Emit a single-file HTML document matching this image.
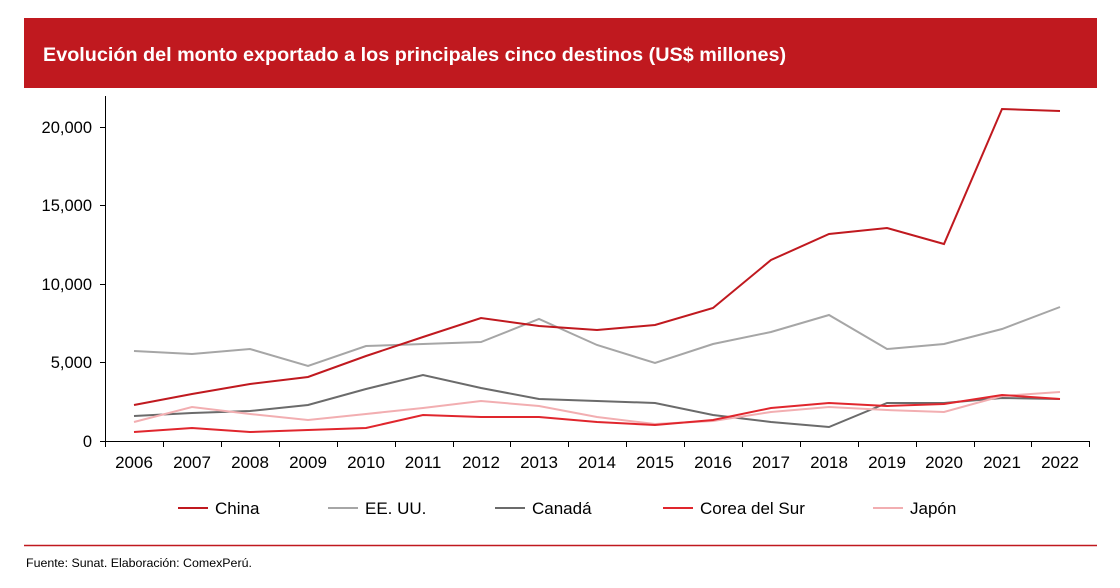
<!DOCTYPE html>
<html><head><meta charset="utf-8"><style>
body{margin:0;background:#fff;width:1120px;height:583px;overflow:hidden;font-family:"Liberation Sans",Arial,sans-serif;}
</style></head><body>
<svg width="1120" height="583" xmlns="http://www.w3.org/2000/svg" font-family="Liberation Sans, Arial, sans-serif">
<rect x="24" y="18" width="1073" height="70" fill="#c0191f"/>
<text x="43" y="61" fill="#fff" font-size="19.8" font-weight="bold">Evolución del monto exportado a los principales cinco destinos (US$ millones)</text>
<g stroke="#000" stroke-width="1">
<line x1="105.5" y1="96" x2="105.5" y2="441"/>
<line x1="105" y1="441.5" x2="1090" y2="441.5"/>
<line x1="100" y1="441.5" x2="105" y2="441.5"/>
<line x1="100" y1="362.5" x2="105" y2="362.5"/>
<line x1="100" y1="284.5" x2="105" y2="284.5"/>
<line x1="100" y1="205.5" x2="105" y2="205.5"/>
<line x1="100" y1="127.5" x2="105" y2="127.5"/>
</g>
<g font-size="16.5" fill="#000" text-anchor="end">
<text x="92" y="447">0</text><text x="92" y="368">5,000</text><text x="92" y="290">10,000</text><text x="92" y="211">15,000</text><text x="92" y="133">20,000</text>
</g>
<g stroke="#000" stroke-width="1">
<line x1="105.5" y1="441" x2="105.5" y2="447"/>
<line x1="163.5" y1="441" x2="163.5" y2="447"/><line x1="221.5" y1="441" x2="221.5" y2="447"/><line x1="279.5" y1="441" x2="279.5" y2="447"/><line x1="337.5" y1="441" x2="337.5" y2="447"/><line x1="395.5" y1="441" x2="395.5" y2="447"/><line x1="453.5" y1="441" x2="453.5" y2="447"/><line x1="510.5" y1="441" x2="510.5" y2="447"/><line x1="568.5" y1="441" x2="568.5" y2="447"/><line x1="626.5" y1="441" x2="626.5" y2="447"/><line x1="684.5" y1="441" x2="684.5" y2="447"/><line x1="742.5" y1="441" x2="742.5" y2="447"/><line x1="800.5" y1="441" x2="800.5" y2="447"/><line x1="858.5" y1="441" x2="858.5" y2="447"/><line x1="916.5" y1="441" x2="916.5" y2="447"/><line x1="974.5" y1="441" x2="974.5" y2="447"/><line x1="1031.5" y1="441" x2="1031.5" y2="447"/><line x1="1089.5" y1="441" x2="1089.5" y2="447"/>
</g>
<g font-size="17" fill="#000" text-anchor="middle">
<text x="134" y="468">2006</text><text x="192" y="468">2007</text><text x="250" y="468">2008</text><text x="308" y="468">2009</text><text x="366" y="468">2010</text><text x="423" y="468">2011</text><text x="481" y="468">2012</text><text x="539" y="468">2013</text><text x="597" y="468">2014</text><text x="655" y="468">2015</text><text x="713" y="468">2016</text><text x="771" y="468">2017</text><text x="829" y="468">2018</text><text x="887" y="468">2019</text><text x="944" y="468">2020</text><text x="1002" y="468">2021</text><text x="1060" y="468">2022</text>
</g>
<g fill="none" stroke-width="2">
<polyline stroke="#a6a6a6" points="134,351 192,354 250,349 308,366 366,346 423,344 481,342 539,319 597,345 655,363 713,344 771,332 829,315 887,349 944,344 1002,329 1060,307"/>
<polyline stroke="#6b6b6b" points="134,416 192,413 250,411 308,405 366,389 423,375 481,388 539,399 597,401 655,403 713,415 771,422 829,427 887,403 944,403 1002,398 1060,399"/>
<polyline stroke="#f2aeb1" points="134,422 192,407 250,414 308,420 366,414 423,408 481,401 539,406 597,417 655,424 713,421 771,412 829,407 887,410 944,412 1002,396 1060,392"/>
<polyline stroke="#e0262d" points="134,432 192,428 250,432 308,430 366,428 423,415 481,417 539,417 597,422 655,425 713,420 771,408 829,403 887,406 944,404 1002,395 1060,399"/>
<polyline stroke="#c0191f" points="134,405 192,394 250,384 308,377 366,356 423,337 481,318 539,326 597,330 655,325 713,308 771,260 829,234 887,228 944,244 1002,109 1060,111"/>
</g>
<g font-size="17" fill="#000">
<line x1="178" y1="508" x2="208" y2="508" stroke="#c0191f" stroke-width="2"/><text x="215" y="514">China</text>
<line x1="328" y1="508" x2="358" y2="508" stroke="#a6a6a6" stroke-width="2"/><text x="365" y="514">EE. UU.</text>
<line x1="495" y1="508" x2="525" y2="508" stroke="#6b6b6b" stroke-width="2"/><text x="532" y="514">Canadá</text>
<line x1="663" y1="508" x2="693" y2="508" stroke="#e0262d" stroke-width="2"/><text x="700" y="514">Corea del Sur</text>
<line x1="873" y1="508" x2="903" y2="508" stroke="#f2aeb1" stroke-width="2"/><text x="910" y="514">Japón</text>
</g>
<line x1="24" y1="545.5" x2="1097" y2="545.5" stroke="#c0191f" stroke-width="1.5"/>
<text x="26" y="567" font-size="12.4" fill="#000">Fuente: Sunat. Elaboración: ComexPerú.</text>
</svg>
</body></html>
